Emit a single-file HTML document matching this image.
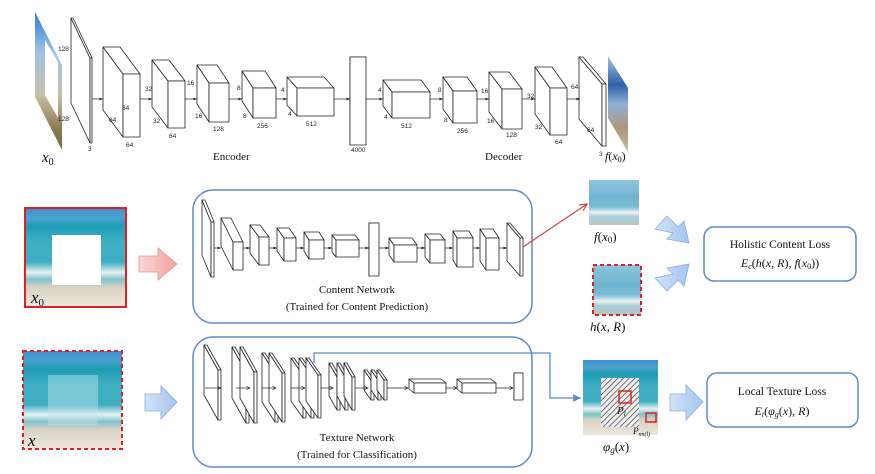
<!DOCTYPE html>
<html><head><meta charset="utf-8">
<style>
html,body{margin:0;padding:0;background:#fff;}
svg{display:block;}
.n{font-family:"Liberation Sans",sans-serif;font-size:6.5px;fill:#222;}
.s{font-family:"Liberation Serif",serif;fill:#111;}
.m{font-family:"Liberation Serif",serif;font-style:italic;fill:#111;}
</style></head>
<body>
<svg id="sv" width="875" height="474" viewBox="0 0 875 474" xmlns="http://www.w3.org/2000/svg">
<defs>
<linearGradient id="beach" x1="0" y1="0" x2="0" y2="1">
<stop offset="0" stop-color="#3f8fcf"/><stop offset="0.1" stop-color="#4aa3cf"/>
<stop offset="0.18" stop-color="#1e9bb5"/><stop offset="0.35" stop-color="#3fb0c4"/>
<stop offset="0.55" stop-color="#40aec2"/><stop offset="0.65" stop-color="#e6f2f3"/>
<stop offset="0.72" stop-color="#7fc3cc"/><stop offset="0.8" stop-color="#d9d2c4"/>
<stop offset="1" stop-color="#ece6dc"/></linearGradient>
<linearGradient id="blur" x1="0" y1="0" x2="0" y2="1">
<stop offset="0" stop-color="#8cc6dc"/><stop offset="0.4" stop-color="#6fb4d2"/>
<stop offset="0.6" stop-color="#7cbcd4"/><stop offset="0.72" stop-color="#e8f2f4"/>
<stop offset="0.82" stop-color="#a9cdd6"/><stop offset="1" stop-color="#b6c7c9"/></linearGradient>
<linearGradient id="top0" x1="0" y1="0" x2="0" y2="1">
<stop offset="0" stop-color="#2f7ed0"/><stop offset="0.3" stop-color="#9fc4e4"/>
<stop offset="0.6" stop-color="#c8c0a8"/><stop offset="0.85" stop-color="#8a7a50"/><stop offset="1" stop-color="#5e7040"/></linearGradient>
<linearGradient id="top1" x1="0" y1="0" x2="0" y2="1">
<stop offset="0" stop-color="#a8c4e4"/><stop offset="0.3" stop-color="#2f60a8"/>
<stop offset="0.5" stop-color="#90b0d8"/><stop offset="0.75" stop-color="#b09878"/><stop offset="1" stop-color="#c0b8a8"/></linearGradient>
<linearGradient id="arrB" x1="0" y1="0" x2="1" y2="0"><stop offset="0" stop-color="#d3e3f8"/><stop offset="1" stop-color="#a4c4ee"/></linearGradient>
<linearGradient id="arrR" x1="0" y1="0" x2="1" y2="0"><stop offset="0" stop-color="#fbd8d8"/><stop offset="1" stop-color="#f2a0a0"/></linearGradient>
<pattern id="hatch" width="4" height="4" patternUnits="userSpaceOnUse" patternTransform="rotate(45)">
<rect width="4" height="4" fill="#eee"/><line x1="0" y1="0" x2="0" y2="4" stroke="#333" stroke-width="1.3"/></pattern>
<marker id="ah" markerWidth="6" markerHeight="6" refX="5" refY="3" orient="auto"><path d="M0,0.5 L5,3 L0,5.5" fill="none" stroke="#222" stroke-width="0.8"/></marker>
<marker id="ahf" markerWidth="6" markerHeight="6" refX="5" refY="3" orient="auto"><path d="M0,1 L5,3 L0,5 z" fill="#222"/></marker>
<marker id="ahr" markerWidth="8" markerHeight="8" refX="6" refY="4" orient="auto"><path d="M0,1 L6,4 L0,7" fill="none" stroke="#c84848" stroke-width="1"/></marker>
<marker id="ahb" markerWidth="8" markerHeight="8" refX="6" refY="4" orient="auto"><path d="M0,1 L6,4 L0,7 z" fill="#5b8bc9"/></marker>
</defs>

<!-- top row images -->
<polygon points="35,12 62,65 62,150 35,97" fill="url(#top0)"/>
<polygon points="45,40 58,62 58,118 45,95" fill="#fff"/>
<polygon points="608,56 628,88 628,152 608,118" fill="url(#top1)"/>
<g id="boxes"></g>

<!-- top labels -->
<text class="n" x="58" y="51">128</text><text class="n" x="58" y="121">128</text><text class="n" x="88" y="151">3</text>
<text class="n" x="122" y="110">64</text><text class="n" x="109" y="122">64</text><text class="n" x="126" y="147">64</text>
<text class="n" x="145" y="91">32</text><text class="n" x="153" y="123">32</text><text class="n" x="187" y="85">16</text><text class="n" x="169" y="138">64</text>
<text class="n" x="195" y="118">16</text><text class="n" x="213" y="131">128</text>
<text class="n" x="237" y="90">8</text><text class="n" x="243" y="118">8</text><text class="n" x="257" y="128">256</text>
<text class="n" x="281" y="92">4</text><text class="n" x="288" y="116">4</text><text class="n" x="306" y="126">512</text>
<text class="n" x="351" y="152">4000</text>
<text class="n" x="378" y="92">4</text><text class="n" x="384" y="119">4</text><text class="n" x="401" y="128">512</text>
<text class="n" x="438" y="92">8</text><text class="n" x="444" y="122">8</text><text class="n" x="457" y="133">256</text>
<text class="n" x="481" y="93">16</text><text class="n" x="487" y="123">16</text><text class="n" x="506" y="137">128</text>
<text class="n" x="527" y="98">32</text><text class="n" x="535" y="129">32</text><text class="n" x="555" y="144">64</text>
<text class="n" x="571" y="89">64</text><text class="n" x="587" y="132">64</text><text class="n" x="599" y="156">3</text>
<text class="s" x="213" y="160" font-size="11">Encoder</text>
<text class="s" x="485" y="160" font-size="11">Decoder</text>
<text class="m" x="42" y="162" font-size="15">x<tspan font-size="10" dy="3" font-style="normal">0</tspan></text>
<text class="m" x="605" y="160" font-size="12">f<tspan font-style="normal">(</tspan>x<tspan font-size="8" dy="2" font-style="normal">0</tspan><tspan dy="-2" font-style="normal">)</tspan></text>

<!-- middle row -->
<rect x="25" y="208" width="101" height="99" fill="url(#beach)" stroke="#e02020" stroke-width="2"/>
<rect x="52" y="235" width="49" height="50" fill="#fff"/>
<text class="m" x="31" y="303" font-size="17">x<tspan font-size="11" dy="3" font-style="normal">0</tspan></text>
<polygon points="139,256 158,256 158,248 177,264 158,280 158,272 139,272" fill="url(#arrR)" stroke="#e59090" stroke-width="0.8"/>
<rect x="193" y="190" width="339" height="133" rx="20" fill="none" stroke="#5b8bc9" stroke-width="1.5"/>
<text class="s" x="357" y="293" font-size="11" text-anchor="middle">Content Network</text>
<text class="s" x="357" y="310" font-size="11" text-anchor="middle">(Trained for Content Prediction)</text>
<line x1="523" y1="247" x2="587" y2="204" stroke="#c84848" stroke-width="1.2" marker-end="url(#ahr)"/>
<rect x="589" y="180" width="50" height="45" fill="url(#blur)"/>
<text class="m" x="594" y="241" font-size="13">f<tspan font-style="normal">(</tspan>x<tspan font-size="9" dy="2" font-style="normal">0</tspan><tspan dy="-2" font-style="normal">)</tspan></text>
<rect x="593" y="265" width="48" height="50" fill="url(#blur)" stroke="#e02020" stroke-width="2" stroke-dasharray="4,3"/>
<text class="m" x="590" y="331" font-size="13">h<tspan font-style="normal">(</tspan>x<tspan font-style="normal">, </tspan>R<tspan font-style="normal">)</tspan></text>
<polygon points="655,229 667,216 678,227 684,221 689,243 667,239 673,233" fill="url(#arrB)" stroke="#8aaee0" stroke-width="0.8"/>
<polygon points="655,278 667,291 678,280 684,286 689,264 667,268 673,274" fill="url(#arrB)" stroke="#8aaee0" stroke-width="0.8"/>
<rect x="704" y="227" width="152" height="54" rx="10" fill="#fff" stroke="#5b8bc9" stroke-width="1.5"/>
<text class="s" x="780" y="248" font-size="11.5" text-anchor="middle">Holistic Content Loss</text>
<text class="m" x="780" y="267" font-size="12" text-anchor="middle">E<tspan font-size="8" dy="2">c</tspan><tspan dy="-2" font-style="normal">(</tspan>h<tspan font-style="normal">(</tspan>x<tspan font-style="normal">, </tspan>R<tspan font-style="normal">), </tspan>f<tspan font-style="normal">(</tspan>x<tspan font-size="8" dy="2" font-style="normal">0</tspan><tspan dy="-2" font-style="normal">))</tspan></text>

<!-- bottom row -->
<rect x="23" y="351" width="99" height="98" fill="url(#beach)" stroke="#e02020" stroke-width="2" stroke-dasharray="4,3"/>
<rect x="48" y="375" width="50" height="50" fill="#bfe4ea" opacity="0.45"/>
<text class="m" x="28" y="446" font-size="17">x</text>
<polygon points="145,394 161,394 161,386 177,402 161,419 161,411 145,411" fill="url(#arrB)" stroke="#8aaee0" stroke-width="0.8"/>
<rect x="193" y="337" width="339" height="130" rx="20" fill="none" stroke="#5b8bc9" stroke-width="1.5"/>
<text class="s" x="357" y="441" font-size="11" text-anchor="middle">Texture Network</text>
<text class="s" x="357" y="458" font-size="11" text-anchor="middle">(Trained for Classification)</text>
<polyline points="314,363 314,353 550,353 550,398 581,398" fill="none" stroke="#5b8bc9" stroke-width="1.3" marker-end="url(#ahb)"/>
<rect x="583" y="360" width="75" height="75" fill="url(#beach)"/>
<rect x="601" y="378" width="38" height="49" fill="url(#hatch)"/>
<rect x="619" y="391" width="12" height="12" fill="none" stroke="#e02020" stroke-width="1.5"/>
<rect x="646" y="413" width="10" height="9" fill="none" stroke="#e02020" stroke-width="1.5"/>
<text class="m" x="617" y="414" font-size="11">P<tspan font-size="7" dy="2">l</tspan></text>
<text class="m" x="633" y="434" font-size="9">P<tspan font-size="6" dy="2">nn(l)</tspan></text>
<text class="m" x="603" y="451" font-size="13">φ<tspan font-size="9" dy="2">g</tspan><tspan dy="-2" font-style="normal">(</tspan>x<tspan font-style="normal">)</tspan></text>
<polygon points="670,394 686,394 686,385 703,402 686,420 686,411 670,411" fill="url(#arrB)" stroke="#8aaee0" stroke-width="0.8"/>
<rect x="707" y="373" width="151" height="54" rx="10" fill="#fff" stroke="#5b8bc9" stroke-width="1.5"/>
<text class="s" x="782" y="395" font-size="11.5" text-anchor="middle">Local Texture Loss</text>
<text class="m" x="782" y="415" font-size="12" text-anchor="middle">E<tspan font-size="8" dy="2">t</tspan><tspan dy="-2" font-style="normal">(</tspan>φ<tspan font-size="8" dy="2">g</tspan><tspan dy="-2" font-style="normal">(</tspan>x<tspan font-style="normal">), </tspan>R<tspan font-style="normal">)</tspan></text>
</svg>
<script>
var g=document.getElementById('boxes'),NS='http://www.w3.org/2000/svg',out='';
function box(fx,fy,w,h,dx,dy,sw){sw=sw||0.8;
var st=' fill="#fff" stroke="#222" stroke-width="'+sw+'" stroke-linejoin="round"';
out+='<polygon points="'+fx+','+fy+' '+(fx+dx)+','+(fy+dy)+' '+(fx+dx)+','+(fy+h+dy)+' '+fx+','+(fy+h)+'"'+st+'/>';
out+='<polygon points="'+fx+','+fy+' '+(fx+dx)+','+(fy+dy)+' '+(fx+w+dx)+','+(fy+dy)+' '+(fx+w)+','+fy+'"'+st+'/>';
out+='<rect x="'+fx+'" y="'+fy+'" width="'+w+'" height="'+h+'"'+st+'/>';}
function ar(x1,x2,y,m){out+='<line x1="'+x1+'" y1="'+y+'" x2="'+x2+'" y2="'+y+'" stroke="#222" stroke-width="0.7" marker-end="url(#'+(m||'ahf')+')"/>';}
// top row
box(90,58,2,85,-19,-40);
box(123,74,17,63,-20,-27);
box(168,81,17,47,-16,-21);
box(209,83,20,39,-12,-18);
box(253,88,23,30,-11,-17);
box(297,88,37,28,-10,-11);
box(350,57,16,88,0,0);
box(392,92,38,26,-9,-12);
box(453,91,24,32,-10,-14);
box(502,89,20,40,-13,-17);
box(550,88,17,47,-15,-21);
box(602,84,4,62,-23,-27);
ar(92,103,99);ar(140,152,99);ar(185,197,99);ar(229,242,99);ar(276,287,99);ar(334,350,99);ar(366,383,99);ar(430,443,99);ar(477,489,99);ar(522,535,99);ar(567,580,99);
// middle content network
box(211,222,3,55,-9,-22);
box(233,242,10,28,-12,-24);
box(259,237,10,28,-9,-12);
box(284,238,12,23,-7,-10);
box(309,240,15,19,-5,-8);
box(336,240,23,17,-4,-5);
box(369,223,10,53,0,0);
box(394,245,23,17,-5,-7);
box(430,240,15,23,-5,-6);
box(457,238,16,29,-4,-7);
box(486,238,13,32,-6,-9);
box(520,238,3,38,-13,-15);
var y=248;ar(214,221,y);ar(243,250,y);ar(269,277,y);ar(296,304,y);ar(324,332,y);ar(359,369,y);ar(379,389,y);ar(417,425,y);ar(445,453,y);ar(473,480,y);ar(499,507,y);
// bottom texture network
box(218,370,3,50,-14,-25);
[246,254].forEach(function(x){box(x,372,3,51,-14,-25);});
[275,282].forEach(function(x){box(x,373,3,49,-13,-20);});
[303,311,318].forEach(function(x){box(x,375,3,43,-12,-17);});
[337,345,352].forEach(function(x){box(x,377,3,33,-8,-14);});
[371,378,384].forEach(function(x){box(x,380,3,20,-7,-10);});
box(414,383,32,10,-5,-4);
box(462,383,34,10,-5,-4);
box(514,373,9,27,0,0);
y=388;ar(205,221,y,'ah');ar(236,250,y,'ah');ar(262,276,y,'ah');ar(291,305,y,'ah');ar(321,333,y,'ah');ar(355,368,y,'ah');ar(387,408,y,'ah');ar(446,457,y,'ah');ar(496,513,y,'ah');
g.innerHTML=out;
</script>
</body></html>
